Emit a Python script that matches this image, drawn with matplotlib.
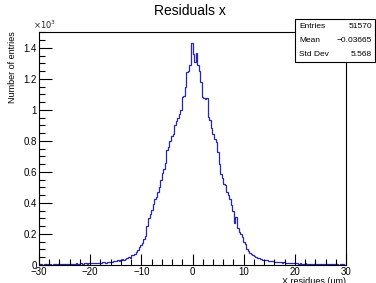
import numpy as np
import matplotlib.pyplot as plt
from matplotlib.ticker import MultipleLocator, FuncFormatter

plt.rcParams['font.family'] = ['Liberation Sans', 'DejaVu Sans']

# histogram: 200 bins from -30 to 30 (um)
x_lo, x_hi, n_bins = -30, 30, 200
counts = [
    4, 6, 3, 5, 7, 4, 6, 5, 3, 8,
    5, 7, 4, 6, 9, 5, 7, 6, 8, 5,
    7, 9, 6, 8, 10, 7, 9, 11, 8, 10,
    12, 9, 11, 13, 10, 14, 12, 15, 13, 16,
    14, 17, 19, 16, 20, 18, 22, 21, 25, 23,
    27, 30, 28, 33, 36, 34, 40, 45, 52, 48,
    62, 66, 74, 85, 98, 115, 130, 142, 168, 190,
    250, 300, 330, 355, 390, 425, 440, 470, 505, 545,
    590, 620, 660, 740, 760, 800, 830, 845, 900, 925,
    950, 975, 1000, 1080, 1090, 1150, 1245, 1250, 1290, 1430,
    1360, 1305, 1365, 1290, 1250, 1180, 1080, 1075, 1070, 1075,
    955, 935, 880, 845, 815, 795, 725, 650, 585, 560,
    520, 515, 470, 450, 425, 385, 350, 270, 310, 240,
    215, 200, 180, 150, 135, 105, 88, 78, 68, 62,
    56, 50, 45, 42, 38, 35, 32, 33, 30, 28,
    27, 24, 26, 22, 20, 21, 18, 19, 16, 17,
    15, 14, 16, 12, 13, 11, 12, 10, 11, 9,
    10, 8, 9, 11, 7, 8, 9, 6, 8, 7,
    9, 6, 7, 5, 8, 6, 7, 5, 6, 4,
    6, 5, 7, 4, 5, 3, 6, 4, 5, 3,
]

stat_names = ['Entries', 'Mean', 'Std Dev']
stat_values = ['51570', '\u22120.03665', '5.568']

fig = plt.figure(figsize=(3.76, 2.83), dpi=100)
ax = fig.add_axes([39 / 376, 18 / 283, 307 / 376, 233 / 283])

edges = np.linspace(x_lo, x_hi, n_bins + 1)
ax.stairs(counts, edges, color='#2626b4', lw=0.9)

ax.set_xlim(x_lo, x_hi)
ax.set_ylim(0, max(counts) * 1.05)

ax.xaxis.set_major_locator(MultipleLocator(10))
ax.xaxis.set_minor_locator(MultipleLocator(2))
ax.yaxis.set_major_locator(MultipleLocator(200))
ax.yaxis.set_minor_locator(MultipleLocator(50))
ax.yaxis.set_major_formatter(FuncFormatter(lambda v, p: '0' if v == 0 else f'{v / 1000:g}'))

ax.tick_params(which='both', direction='in', top=False, right=False, labelsize=7, width=0.8, pad=1.5)
ax.tick_params(which='major', length=8)
ax.tick_params(which='minor', length=4)
ax.tick_params(axis='y', which='major', length=9)
for s in ax.spines.values():
    s.set_linewidth(0.8)

ax.text(-0.02, 1.005, r'$\times10^{3}$', transform=ax.transAxes, fontsize=6, ha='left', va='bottom', color='#222222')

fig.text(190 / 376, 1 - 11 / 283, 'Residuals x', ha='center', va='center', fontsize=10)
fig.text(13 / 376, 1 - 31 / 283, 'Number of entries', rotation=90, ha='center', va='top', fontsize=6.5)
fig.text(346 / 376, 1 - 281 / 283, 'X residues (\u03bcm)', ha='right', va='center', fontsize=6.5)

# stats box
bx0, by0, bx1, by1 = 295 / 376, 1 - 62 / 283, 375 / 376, 1 - 19 / 283
box = plt.Rectangle((bx0, by0), bx1 - bx0, by1 - by0, transform=fig.transFigure,
                    facecolor='white', edgecolor='black', lw=0.8, zorder=5)
fig.add_artist(box)
row_h = (by1 - by0) / 3
for k, (nm, val) in enumerate(zip(stat_names, stat_values)):
    yc = by1 - row_h * (k + 0.5)
    fig.text(bx0 + 4 / 376, yc, nm, ha='left', va='center', fontsize=6, zorder=6)
    fig.text(bx1 - 3 / 376, yc, val, ha='right', va='center', fontsize=6, zorder=6)

fig.savefig('out.png', dpi=100)
